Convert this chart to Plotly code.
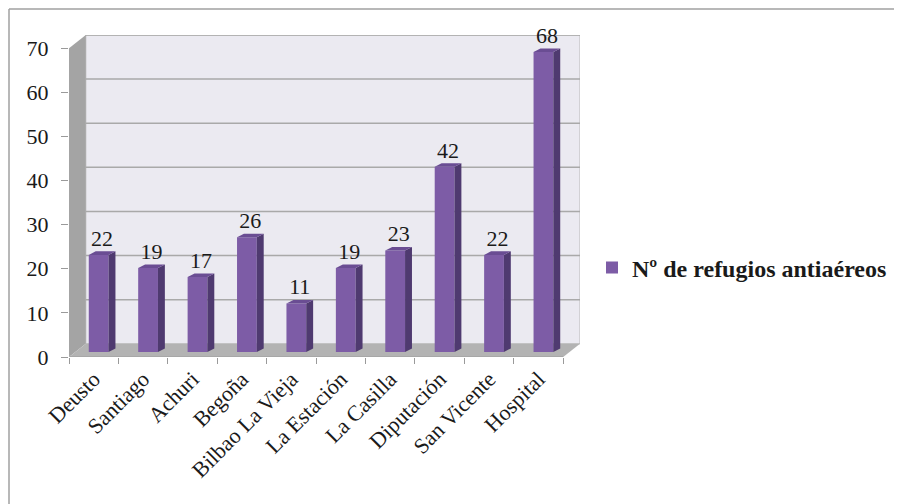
import plotly.graph_objects as go

# ---- data ----
categories = ["Deusto", "Santiago", "Achuri", "Begoña", "Bilbao La Vieja",
              "La Estación", "La Casilla", "Diputación", "San Vicente", "Hospital"]
values = [22, 19, 17, 26, 11, 19, 23, 42, 22, 68]
series_name = "Nº de refugios antiaéreos"
y_ticks = [0, 10, 20, 30, 40, 50, 60, 70]

# ---- 3D-look geometry (in axis units) ----
OFF = 8  # default page margin of the html body
W, H = 902, 504
ML, MR, MT, MB = 69 - OFF, 322 + OFF, 35 - OFF, 147 + OFF
ymax = 70
depth_x, depth_y = 0.34, 3.0        # back-wall offset
bar_sx, bar_sy = 0.10, 1.15         # bar front-face offset from front plane
bar_w = 0.40
bar_dx, bar_dy = 0.14, 0.8          # bar depth

n = len(categories)
xs = list(range(n))
x0, x1 = -0.5, n - 0.5
xr = [x0, x1 + depth_x]
yr = [0, ymax + depth_y]

FONT = "'Liberation Serif', 'Times New Roman', Times, serif"
front_col = "#7d5ca6"
side_col = "#4f3a70"
top_col = "#6a4d93"

fig = go.Figure()

# bar front faces
fig.add_trace(go.Bar(
    x=[i + bar_sx for i in xs], y=values, base=bar_sy, width=bar_w,
    marker=dict(color=front_col, line=dict(width=0)),
    name=series_name, showlegend=True, hoverinfo="skip"))

# side and top faces built from the values
for i, v in zip(xs, values):
    xl = i + bar_sx - bar_w / 2
    xrt = i + bar_sx + bar_w / 2
    yb = bar_sy
    yt = bar_sy + v
    fig.add_trace(go.Scatter(
        x=[xrt, xrt + bar_dx, xrt + bar_dx, xrt, xrt],
        y=[yb, yb + bar_dy, yt + bar_dy, yt, yb],
        mode="lines", fill="toself", fillcolor=side_col,
        line=dict(width=0, color=side_col), showlegend=False, hoverinfo="skip"))
    fig.add_trace(go.Scatter(
        x=[xl, xl + bar_dx, xrt + bar_dx, xrt, xl],
        y=[yt, yt + bar_dy, yt + bar_dy, yt, yt],
        mode="lines", fill="toself", fillcolor=top_col,
        line=dict(width=0, color=top_col), showlegend=False, hoverinfo="skip"))

# data labels
fig.add_trace(go.Scatter(
    x=[i + bar_sx + bar_dx / 2 for i in xs],
    y=[v + bar_sy + bar_dy for v in values],
    mode="text", text=[str(v) for v in values], textposition="top center",
    textfont=dict(family=FONT, size=22, color="#1a1a1a"),
    showlegend=False, hoverinfo="skip", cliponaxis=False))

# invisible trace for the boundary-tick axis
fig.add_trace(go.Scatter(x=[x0], y=[0], xaxis="x2", mode="markers",
                         marker=dict(opacity=0), showlegend=False, hoverinfo="skip"))

shapes = []
# back wall
shapes.append(dict(type="rect", xref="x", yref="y", layer="below",
                   x0=x0 + depth_x, x1=x1 + depth_x, y0=depth_y, y1=ymax + depth_y,
                   fillcolor="#ebeaf1", line=dict(color="#b8b8b8", width=1)))
# gridlines on back wall
for t in y_ticks[1:]:
    shapes.append(dict(type="line", xref="x", yref="y", layer="below",
                       x0=x0 + depth_x, x1=x1 + depth_x, y0=t + depth_y, y1=t + depth_y,
                       line=dict(color="#a9a9a9", width=1.5)))
# left wall
shapes.append(dict(type="path", xref="x", yref="y", layer="below",
                   path=f"M {x0},0 L {x0 + depth_x},{depth_y} L {x0 + depth_x},{ymax + depth_y} L {x0},{ymax} Z",
                   fillcolor="#a4a4a4", line=dict(width=0)))
# floor
shapes.append(dict(type="path", xref="x", yref="y", layer="below",
                   path=f"M {x0},0 L {x1},0 L {x1 + depth_x},{depth_y} L {x0 + depth_x},{depth_y} Z",
                   fillcolor="#b3b3b3", line=dict(width=0)))
# floor front edge
shapes.append(dict(type="line", xref="x", yref="y", layer="below",
                   x0=x0, x1=x1, y0=0, y1=0, line=dict(color="#9a9a9a", width=1)))

# outer frame (left and top edges of the chart area)
pw = W - ML - MR
ph = H - MT - MB
def px_to_paper_x(px):
    return (px - OFF - ML) / pw
def py_to_paper_y(py):
    return 1 - (py - OFF - MT) / ph
shapes.append(dict(type="line", xref="paper", yref="paper",
                   x0=px_to_paper_x(9), x1=px_to_paper_x(W + 5),
                   y0=py_to_paper_y(9), y1=py_to_paper_y(9),
                   line=dict(color="#a0a0a0", width=1.5)))
shapes.append(dict(type="line", xref="paper", yref="paper",
                   x0=px_to_paper_x(9), x1=px_to_paper_x(9),
                   y0=py_to_paper_y(9), y1=py_to_paper_y(H + 5),
                   line=dict(color="#a0a0a0", width=1.5)))

fig.update_layout(
    width=W, height=H,
    margin=dict(l=ML, r=MR, t=MT, b=MB, pad=0),
    paper_bgcolor="white", plot_bgcolor="white",
    barmode="overlay",
    shapes=shapes,
    xaxis=dict(range=xr, tickmode="array", tickvals=xs, ticktext=categories,
               tickangle=-45, ticks="", showgrid=False, zeroline=False, showline=False,
               tickfont=dict(family=FONT, size=22, color="#1a1a1a"),
               ticklabelstandoff=4, fixedrange=True),
    xaxis2=dict(range=xr, overlaying="x", side="bottom", tickmode="array",
                tickvals=[x0 + k for k in range(n + 1)], ticktext=[""] * (n + 1),
                ticks="outside", ticklen=6, tickcolor="#9a9a9a", tickwidth=1,
                showgrid=False, zeroline=False, showline=False, showticklabels=False),
    yaxis=dict(range=yr, tickmode="array", tickvals=y_ticks,
               ticks="outside", ticklen=7, tickcolor="#9a9a9a", tickwidth=1,
               showgrid=False, zeroline=False, showline=False,
               tickfont=dict(family=FONT, size=22, color="#1a1a1a"),
               ticklabelstandoff=8, fixedrange=True),
    legend=dict(xref="container", yref="container", x=(592 - OFF) / W, y=1 - (268 - OFF) / H,
                xanchor="left", yanchor="middle", bgcolor="rgba(0,0,0,0)",
                font=dict(family=FONT, size=24, color="#1a1a1a", weight="bold"),
                itemsizing="constant"),
    showlegend=True,
)

fig.write_html("out.html")
